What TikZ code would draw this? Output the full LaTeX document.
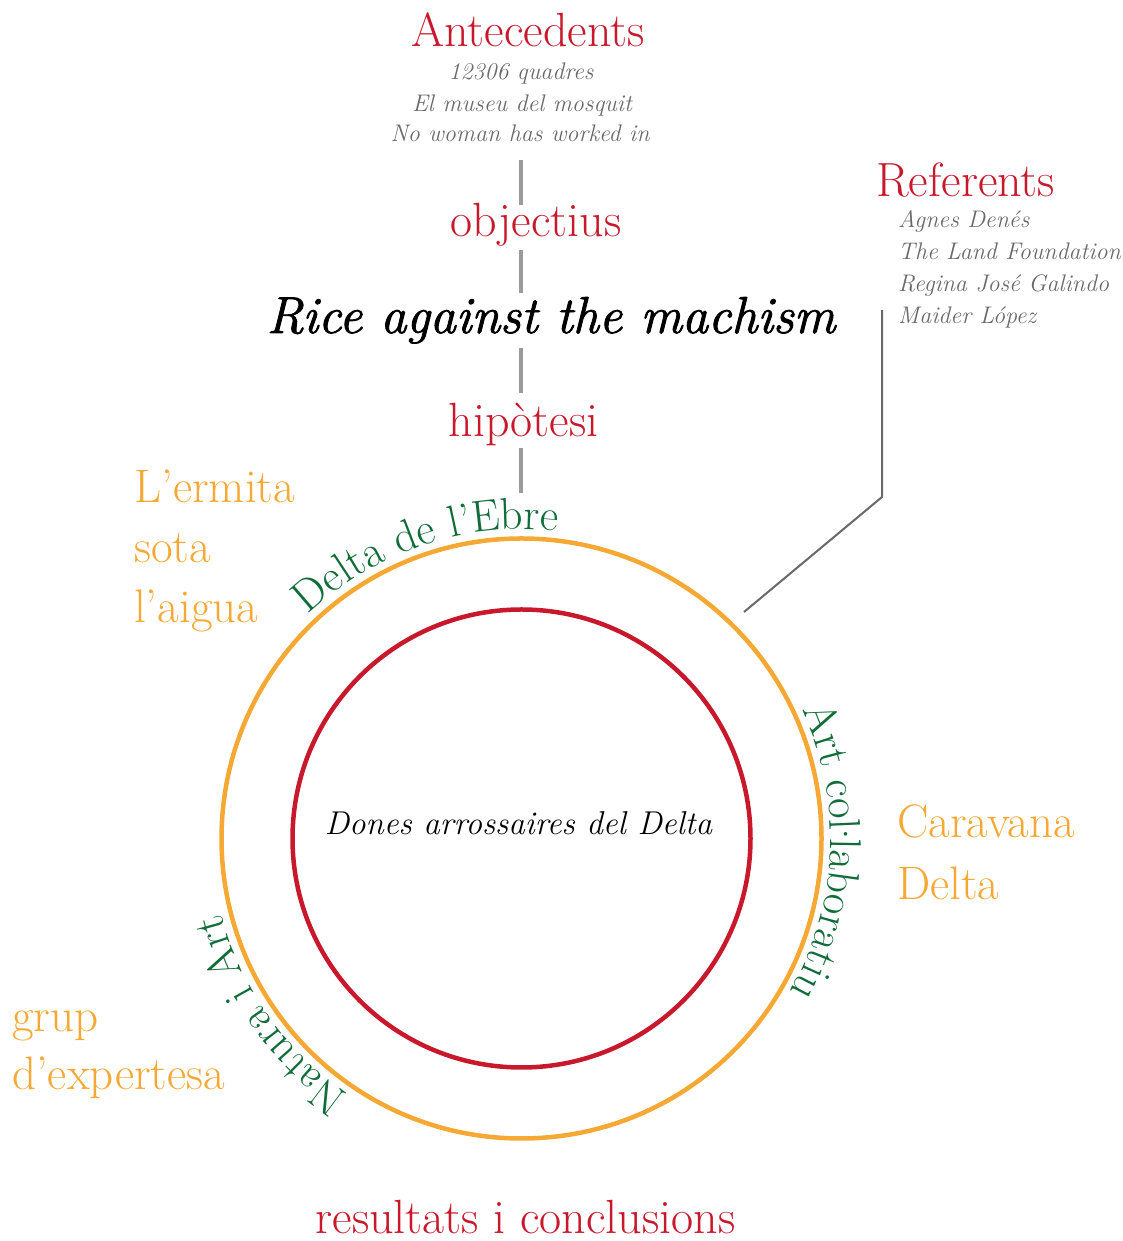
\documentclass[tikz,border=0pt]{standalone}
\usepackage{fontspec}
\usetikzlibrary{decorations.text}
\newfontface\ricefont{lmroman12-italic.otf}[FakeBold=1.6]
\definecolor{rdred}{RGB}{200,24,44}
\definecolor{rdorange}{RGB}{246,168,52}
\definecolor{rdgreen}{RGB}{16,108,56}
\definecolor{rdgray}{RGB}{105,105,105}
\definecolor{rdline}{RGB}{155,155,155}
\newcommand\gtxtfont{\fontsize{44.5}{44.5}\selectfont\color{rdgreen}}
\newcommand\middot{\hbox to 0.16em{\hss·\hss}}
\begin{document}
\begin{tikzpicture}[x=1pt,y=1pt,
  title/.style={text=rdred, font=\fontsize{48}{48}\selectfont, anchor=base, inner sep=0pt},
  listitem/.style={text=rdgray, font=\itshape\fontsize{24}{24}\selectfont, anchor=base, inner sep=0pt},
  reflist/.style={listitem, anchor=base west},
  orangelbl/.style={text=rdorange, font=\fontsize{47}{47}\selectfont, anchor=base west, inner sep=0pt},
  vline/.style={draw=rdline, line width=3.5pt},
  refline/.style={draw=rdgray, line width=2pt},
  ring/.style={circle, draw=#1, line width=4.5pt, inner sep=0pt},
  curvetext/.style={decorate, decoration={text along path, text align=center, text={|\gtxtfont|#1}}},
]
\useasboundingbox (0,0) rectangle (1123,1241);
\coordinate (c) at (521.5,402.5);

% circles
\node[ring=rdorange, minimum size=600pt] (outer) at (c) {};
\node[ring=rdred, minimum size=458pt] (inner) at (c) {};
\node[font=\itshape\fontsize{33}{33}\selectfont, anchor=base, inner sep=0pt] (dones) at (518.5,406) {Dones arrossaires del Delta};

% top column
\node[title] (ante) at (528,1194) {Antecedents};
\node[listitem] (a1) at (521,1161) {12306 quadres};
\node[listitem] (a2) at (522,1129) {El museu del mosquit};
\node[listitem] (a3) at (520,1099) {No woman has worked in};
\node[title] (obj) at (536,1004) {objectius};
\node[font=\ricefont\fontsize{52}{52}\selectfont, anchor=base, inner sep=0pt] (rice) at (551,908) {Rice against the machism};
\node[title] (hipo) at (523.5,804) {hip\`otesi};

\coordinate (v1a) at (521,1081); \coordinate (v1b) at (521,1036);
\coordinate (v2a) at (521,991);  \coordinate (v2b) at (521,948);
\coordinate (v3a) at (521,893);  \coordinate (v3b) at (521,848);
\coordinate (v4a) at (521,793);  \coordinate (v4b) at (521,748);
\draw[vline] (v1a) -- (v1b);
\draw[vline] (v2a) -- (v2b);
\draw[vline] (v3a) -- (v3b);
\draw[vline] (v4a) -- (v4b);

% referents
\node[title, anchor=base west] (ref) at (876,1044) {Referents};
\node[reflist] (r1) at (898,1013) {Agnes Den\'es};
\node[reflist] (r2) at (898,981) {The Land Foundation};
\node[reflist] (r3) at (898,949) {Regina Jos\'e Galindo};
\node[reflist] (r4) at (898,917) {Maider L\'opez};
\coordinate (rl1) at (882,931);
\coordinate (rl2) at (882,744);
\coordinate (rl3) at (744,629);
\draw[refline] (rl1) -- (rl2) -- (rl3);

% orange labels
\node[orangelbl] (erm1) at (134,738) {L’ermita};
\node[orangelbl] (erm2) at (134,678) {sota};
\node[orangelbl] (erm3) at (134,618) {l’aigua};
\node[orangelbl] (car1) at (897,403) {Caravana};
\node[orangelbl] (car2) at (897,341) {Delta};
\node[orangelbl] (grp1) at (12,209) {grup};
\node[orangelbl] (grp2) at (12,151) {d’expertesa};

% curved green texts
\path[curvetext={Delta de l’Ebre}, shift={(c)}] (165:309) arc[start angle=165, end angle=52, radius=309];
\path[curvetext={Art col{\middot}laboratiu}, shift={(c)}] (45:309) arc[start angle=45, end angle=-50, radius=309];
\path[curvetext={Natura i Art}, shift={(c)}] (-104:309) arc[start angle=-104, end angle=-186, radius=309];

% bottom
\node[title] (res) at (525.5,7) {resultats i conclusions};
\end{tikzpicture}
\end{document}
